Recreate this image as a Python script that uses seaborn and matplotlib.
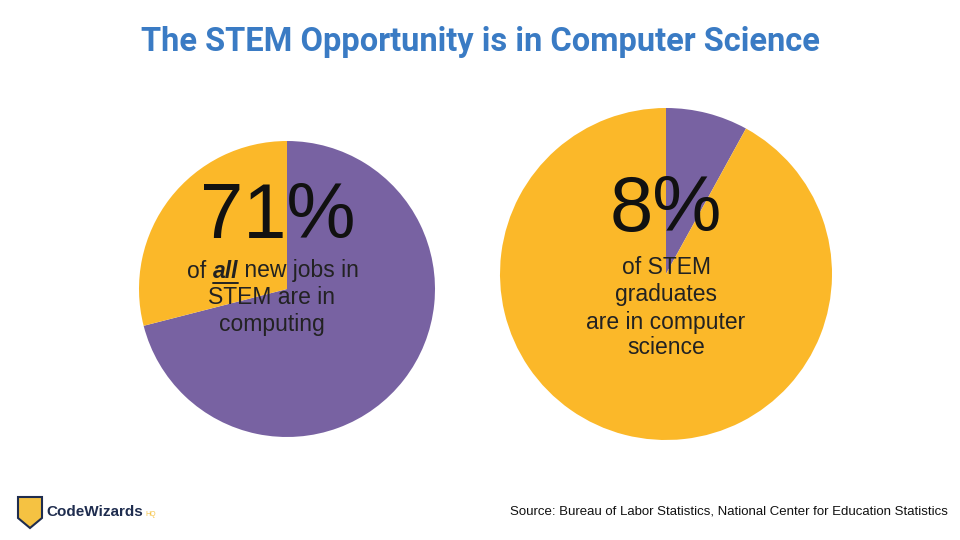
import matplotlib
matplotlib.use("Agg")
import matplotlib.pyplot as plt
import seaborn as sns
from matplotlib.patches import Polygon
from matplotlib.lines import Line2D

sns.set_theme(style="white")
plt.rcParams['font.family'] = ['Liberation Sans', 'DejaVu Sans']

purple = "#7862A2"
yellow = "#FBB829"
jobs_labels = ["Computing", "Other"]
jobs_values = [71, 29]
grads_labels = ["Computer science", "Other"]
grads_values = [8, 92]

W, H = 960, 540
fig = plt.figure(figsize=(9.6, 5.4), dpi=100)
fig.patch.set_facecolor("white")

def pie_axes(cx, cy, r):
    ax = fig.add_axes([(cx - r) / W, 1 - (cy + r) / H, 2 * r / W, 2 * r / H])
    return ax

def ftext(x, y, s, **kw):
    return fig.text(x / W, 1 - y / H, s, **kw)

ax1 = pie_axes(287, 289, 148)
ax1.pie(jobs_values, colors=[purple, yellow], startangle=90, counterclock=False,
        wedgeprops=dict(linewidth=0))
ax1.set_xlim(-1, 1); ax1.set_ylim(-1, 1)

ax2 = pie_axes(666, 274, 166)
ax2.pie(grads_values, colors=[purple, yellow], startangle=90, counterclock=False,
        wedgeprops=dict(linewidth=0))
ax2.set_xlim(-1, 1); ax2.set_ylim(-1, 1)

BIG, BODY = 56, 16.5
txt = "#222222"
ftext(278, 218, "71%", ha="center", va="center", fontsize=BIG, color="#111111")
ftext(272, 298, "STEM are in", ha="center", va="center", fontsize=BODY, color=txt)
ftext(272, 325, "computing", ha="center", va="center", fontsize=BODY, color=txt)

fig.canvas.draw()
r = fig.canvas.get_renderer()
parts = [("of ", {}), ("all", {"fontweight": "bold", "fontstyle": "italic"}), (" new jobs in", {})]
tmp = [fig.text(0, 0, s, fontsize=BODY, **kw) for s, kw in parts]
widths = [t.get_window_extent(r).width for t in tmp]
for t in tmp:
    t.remove()
x = 273 - sum(widths) / 2
ybase = 271
for (s, kw), w in zip(parts, widths):
    ftext(x, ybase, s, fontsize=BODY, color=txt, va="center", ha="left", **kw)
    if s == "all":
        fig.add_artist(Line2D([x / W, (x + w) / W], [1 - (ybase + 12) / H] * 2, color=txt, lw=1.4))
    x += w

ftext(666, 210, "8%", ha="center", va="center", fontsize=BIG, color="#111111")
for s, y in [("of STEM", 268), ("graduates", 295), ("are in computer", 322), ("science", 348)]:
    ftext(666, y, s, ha="center", va="center", fontsize=BODY, color=txt)

ftext(480, 42, "The STEM Opportunity is in Computer Science", ha="center", va="center",
      fontsize=23.5, fontweight="bold", color="#3A7BC4", family=["Roboto", "DejaVu Sans"])
ftext(948, 511, "Source: Bureau of Labor Statistics, National Center for Education Statistics",
      ha="right", va="center", fontsize=9.5, color="#111111")

shield = Polygon([[18 / W, 1 - 497 / H], [42 / W, 1 - 497 / H], [42 / W, 1 - 518 / H],
                  [30 / W, 1 - 528 / H], [18 / W, 1 - 518 / H]],
                 closed=True, transform=fig.transFigure, facecolor="#F5C242", edgecolor="#1F2D4F", lw=1.5)
fig.patches.append(shield)
ftext(46, 512, "CodeWizards", ha="left", va="center", fontsize=11, fontweight="bold", color="#1F2D4F")
ftext(145, 515, "HQ", ha="left", va="center", fontsize=5, color="#F5C242")

fig.savefig("out.png", dpi=100)
